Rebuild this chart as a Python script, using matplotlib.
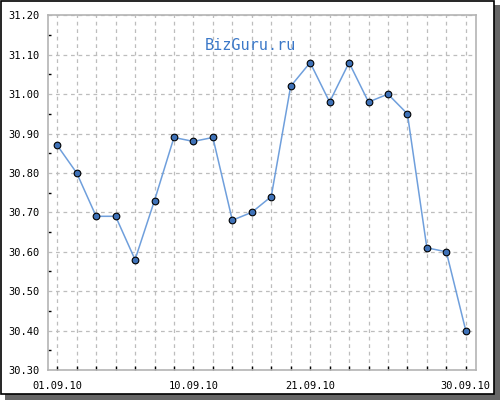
import matplotlib
matplotlib.use("Agg")
import matplotlib.pyplot as plt
from matplotlib.patches import Rectangle
from matplotlib.ticker import MultipleLocator

# USD/RUB-like daily quotes, September 2010
values = [30.87, 30.80, 30.69, 30.69, 30.58, 30.73, 30.89, 30.88, 30.89, 30.68, 30.70,
          30.74, 31.02, 31.08, 30.98, 31.08, 30.98, 31.00, 30.95, 30.61, 30.60, 30.40]
date_labels = {0: "01.09.10", 7: "10.09.10", 13: "21.09.10", 21: "30.09.10"}
title = "BizGuru.ru"

mono = "DejaVu Sans Mono"

fig = plt.figure(figsize=(5, 4), dpi=100, facecolor="white")

# frame with drop shadow
fig.add_artist(Rectangle((5 / 500, 0), 495 / 500, 395 / 400, transform=fig.transFigure,
                         facecolor="#666666", edgecolor="none", zorder=-3))
fig.add_artist(Rectangle((0.5 / 500, 6 / 400), 493.5 / 500, 393.5 / 400, transform=fig.transFigure,
                         facecolor="white", edgecolor="black", linewidth=1.2, zorder=-2))

ax = fig.add_axes([47.5 / 500, 30 / 400, 428 / 500, 354.7 / 400])
ax.set_facecolor("none")

x = list(range(len(values)))
ax.plot(x, values, color="#6f9fdc", linewidth=1.1, zorder=3)
ax.plot(x, values, linestyle="none", marker="o", markersize=4.8,
        markerfacecolor="#3f72b8", markeredgecolor="black", markeredgewidth=0.8, zorder=4)

ax.set_xlim(-0.5, len(values) - 0.5)
ax.set_ylim(30.30, 31.20)

ax.yaxis.set_major_locator(MultipleLocator(0.1))
ax.yaxis.set_minor_locator(MultipleLocator(0.05))
ax.set_yticklabels([f"{v:.2f}" for v in ax.get_yticks()])
ax.set_xticks(x)
ax.set_xticklabels([date_labels.get(i, "") for i in x])

ax.tick_params(axis="y", which="major", length=0, pad=6, labelsize=7.5)
ax.tick_params(axis="y", which="minor", direction="in", length=2.5, width=1, color="black")
ax.tick_params(axis="x", which="major", direction="in", length=3, width=1, color="black",
               pad=8, labelsize=7.5)
for lab in ax.get_xticklabels() + ax.get_yticklabels():
    lab.set_fontfamily(mono)

ax.grid(True, which="major", color="#bdbdbd", linestyle=(0, (3, 3)), linewidth=0.9)
for s in ax.spines.values():
    s.set_color("#b4b4b4")
    s.set_linewidth(1.2)

fig.text(250.5 / 500, 1 - 46 / 400, title, color="#3b78c8", fontsize=11,
         family=mono, ha="center", va="center")

fig.savefig("out.png", dpi=100)
